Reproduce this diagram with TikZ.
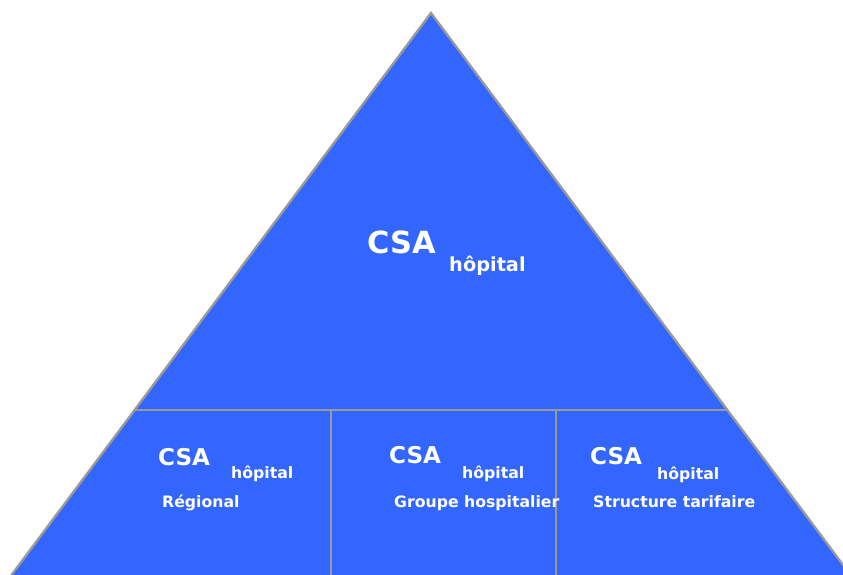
\documentclass[tikz,border=0pt]{standalone}
\usepackage{fontspec}
\setmainfont{DejaVu Sans}
\usepackage{tikz}
\definecolor{pyrblue}{HTML}{3366FF}
\definecolor{pyrgray}{HTML}{999999}
\tikzset{
  big/.style={text=white,inner sep=0pt,anchor=base west,font=\bfseries\fontsize{26}{28}\selectfont},
  mid/.style={text=white,inner sep=0pt,anchor=base west,font=\bfseries\fontsize{19.7}{22}\selectfont},
  tiny/.style={text=white,inner sep=0pt,anchor=base west,font=\bfseries\fontsize{13.4}{15}\selectfont}
}

\begin{document}
\begin{tikzpicture}[x=0.03cm,y=-0.03cm]
 \useasboundingbox (0,0) rectangle (843,574);
 \clip (0,0) rectangle (843,574);
 % pyramid
 \coordinate (top) at (431,13);
 \coordinate (bl) at (4,585);
 \coordinate (br) at (858,585);
 \fill[pyrblue] (top) -- (bl) -- (br) -- cycle;
 \draw[pyrgray,line width=2pt,line join=miter] (bl) -- (top) -- (br);
 % tiers
 \coordinate (hl) at (135,410);
 \coordinate (hr) at (727,410);
 \draw[pyrgray,line width=1.2pt] (hl) -- (hr);
 \draw[pyrgray,line width=1.2pt] (331,410) -- (331,585);
 \draw[pyrgray,line width=1.2pt] (556,410) -- (556,585);
 % top level
 \node[big] (csa) at (367,253) {CSA};
 \node[tiny,font=\bfseries\fontsize{16.5}{18}\selectfont] (hop) at (449,271) {hôpital};
 % regional
 \node[mid] (csa1) at (158,465) {CSA};
 \node[tiny] (hop1) at (231,478) {hôpital};
 \node[tiny] (reg) at (162,507) {Régional};
 % groupe hospitalier
 \node[mid] (csa2) at (389,463) {CSA};
 \node[tiny] (hop2) at (462,478) {hôpital};
 \node[tiny] (grp) at (394,507) {Groupe hospitalier};
 % structure tarifaire
 \node[mid] (csa3) at (590,464) {CSA};
 \node[tiny] (hop3) at (657,479) {hôpital};
 \node[tiny] (tar) at (593,507) {Structure tarifaire};
\end{tikzpicture}
\end{document}
